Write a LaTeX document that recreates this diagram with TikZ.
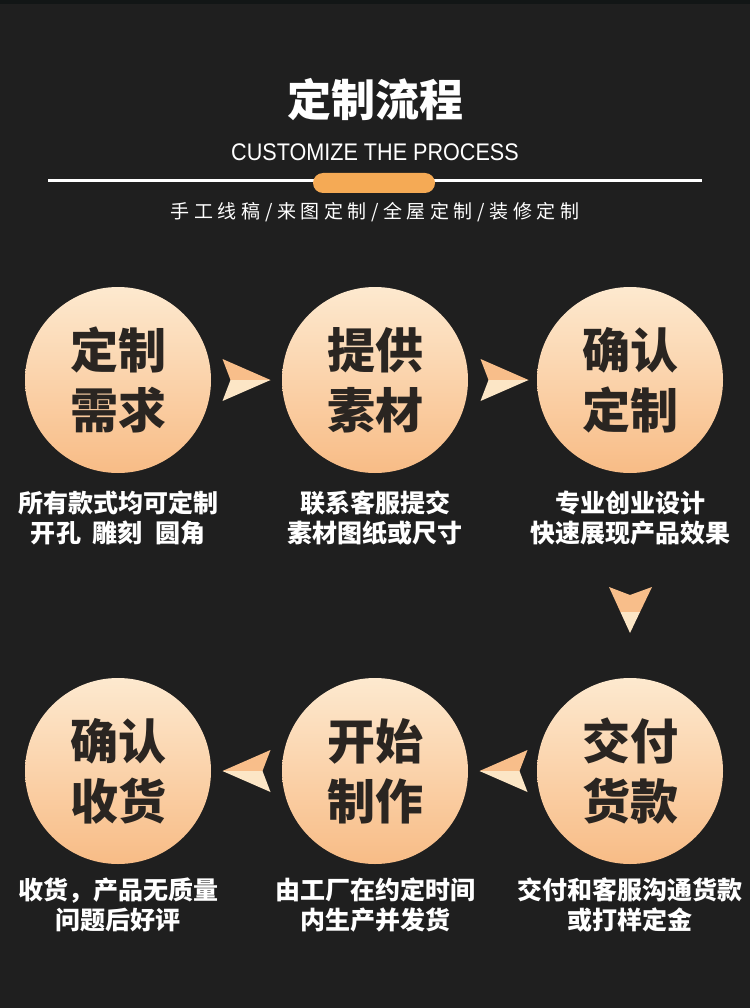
\documentclass[tikz,border=0pt]{standalone}
\usepackage{fontspec}
\setmainfont{Liberation Sans}
\newfontfamily\cjk{Noto Sans CJK SC}
\newfontfamily\cjkls{Noto Sans CJK SC}[LetterSpace=24]
\usetikzlibrary{calc}
\definecolor{bg}{HTML}{1F1F1F}
\definecolor{peachtop}{HTML}{FDE9CF}
\definecolor{peachbot}{HTML}{F8BC86}
\definecolor{arrO}{HTML}{F8BE8A}
\definecolor{arrP}{HTML}{FCE6C6}
\definecolor{pillc}{HTML}{F5AA55}
\definecolor{inkc}{HTML}{2A2521}
\definecolor{topstrip}{HTML}{121616}
\newcommand\rarrow[1]{%
  \begin{scope}[shift={(#1)}]
    \fill[arrO] (24,0) -- (-24,-21) -- (-16,0) -- cycle;
    \fill[arrP] (24,0) -- (-16,0) -- (-24,21) -- cycle;
  \end{scope}}
\newcommand\larrow[1]{%
  \begin{scope}[shift={(#1)}]
    \fill[arrO] (-24,0) -- (24,-21) -- (16,0) -- cycle;
    \fill[arrP] (-24,0) -- (16,0) -- (24,21) -- cycle;
  \end{scope}}
\newcommand\darrow[1]{%
  \begin{scope}[shift={(#1)}]
    \fill[arrO] (-21,-23) -- (0,-15) -- (22,-23) -- (10,2) -- (-9.6,2) -- cycle;
    \fill[arrP] (-9.6,2) -- (10,2) -- (0,23) -- cycle;
  \end{scope}}
\begin{document}
\begin{tikzpicture}[x=1pt,y=-1pt,
  stepdisc/.style={circle, minimum size=186pt, inner sep=0pt,
    top color=peachtop, bottom color=peachbot, text=inkc,
    font=\cjk\bfseries\fontsize{48}{60}\selectfont, align=center},
  captext/.style={text=white, inner sep=0pt, align=center,
    font=\cjk\bfseries\fontsize{25}{30}\selectfont},
]
\useasboundingbox (0,0) rectangle (750,1008);
\fill[bg] (0,0) rectangle (750,1008);
\fill[topstrip] (0,0) rectangle (750,4);

% header
\node[text=white, font=\cjk\bfseries\fontsize{44}{44}\selectfont, inner sep=0pt] (title) at (375,100) {定制流程};
\node[text=white, font=\fontsize{24}{24}\selectfont, inner sep=0pt] (eng) at (375,152) {\scalebox{0.9}[1]{CUSTOMIZE THE PROCESS}};
\coordinate (hl) at (48,181);
\coordinate (hr) at (702,181);
\draw[white, line width=3pt] (hl) -- (hr);
\node[fill=pillc, rounded corners=10pt, minimum width=122pt, minimum height=20pt, inner sep=0pt] (pill) at (374,183) {};
\node[text=white, font=\cjkls\fontsize{19}{19}\selectfont, inner sep=0pt] (sub) at (375,212) {手工线稿/来图定制/全屋定制/装修定制};

% circles
\node[stepdisc] (c1) at (118,380) {定制\\需求};
\node[stepdisc] (c2) at (375,380) {提供\\素材};
\node[stepdisc] (c3) at (630,380) {确认\\定制};
\node[stepdisc] (c4) at (118,771) {确认\\收货};
\node[stepdisc] (c5) at (375,771) {开始\\制作};
\node[stepdisc] (c6) at (630,771) {交付\\货款};

% captions
\node[captext] (t1) at (118,518) {所有款式均可定制\\开孔\hspace{11pt}雕刻\hspace{13pt}圆角};
\node[captext] (t2) at (375,518) {联系客服提交\\素材图纸或尺寸};
\node[captext] (t3) at (630,518) {专业创业设计\\快速展现产品效果};
\node[captext] (t4) at (118,905) {收货，产品无质量\\问题后好评};
\node[captext] (t5) at (375,905) {由工厂在约定时间\\内生产并发货};
\node[captext] (t6) at (630,905) {交付和客服沟通货款\\或打样定金};

% arrows
\coordinate (a12) at ($(c1)!0.5!(c2)$);
\coordinate (a23) at ($(c2)!0.5!(c3)+(2,0)$);
\coordinate (a36) at ($(c3)+(0,230)$);
\coordinate (a65) at ($(c6)!0.5!(c5)+(1,0)$);
\coordinate (a54) at ($(c5)!0.5!(c4)$);
\rarrow{a12}
\rarrow{a23}
\darrow{a36}
\larrow{a65}
\larrow{a54}
\end{tikzpicture}
\end{document}
